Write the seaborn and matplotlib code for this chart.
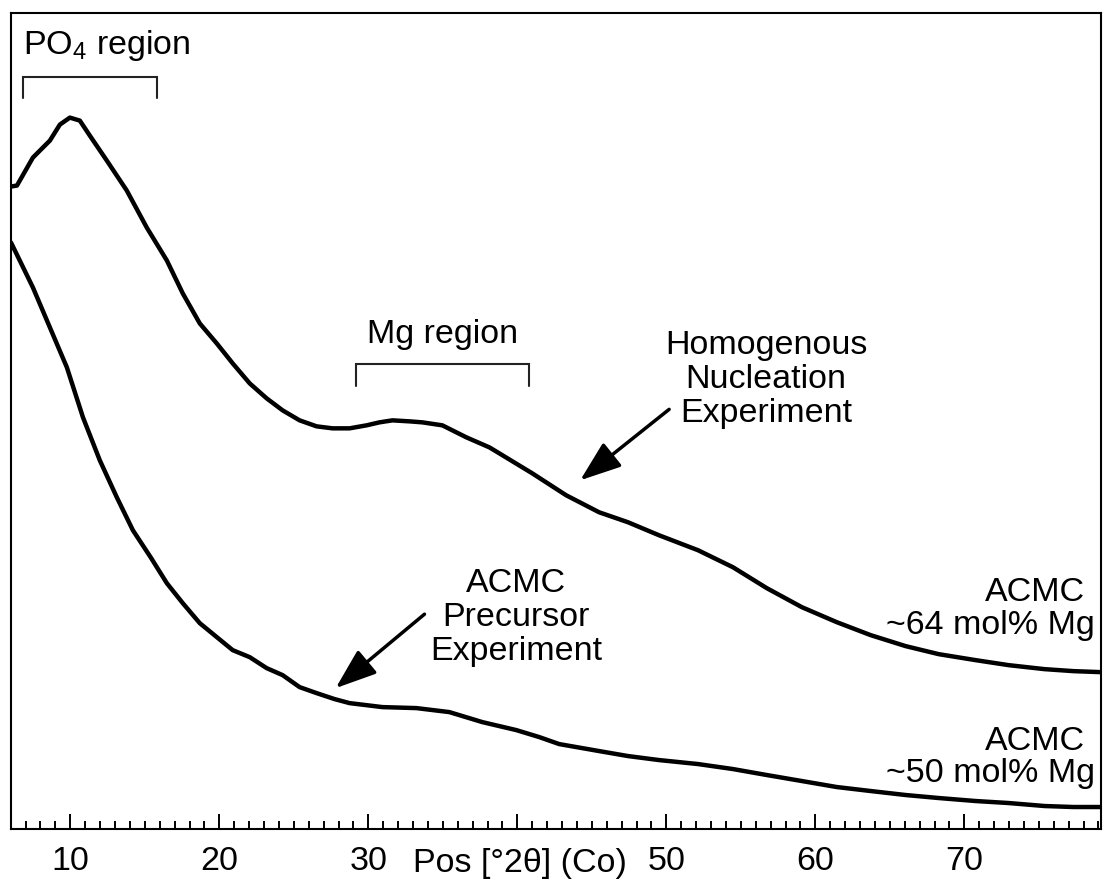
import matplotlib
matplotlib.use("Agg")
import matplotlib.pyplot as plt
import seaborn as sns
import numpy as np
from matplotlib.ticker import MultipleLocator, FixedLocator, FixedFormatter

# ---- data ----
two_theta_hom = [6.02, 6.42, 7.49, 8.63, 9.30, 9.97, 10.64, 11.31, 12.45, 13.79, 15.13,
                 16.48, 17.55, 18.69, 19.83, 20.90, 22.04, 23.18, 24.25, 25.39, 26.53,
                 27.60, 28.74, 29.88, 30.75, 31.62, 32.76, 33.63, 34.97, 36.58, 38.12,
                 38.79, 41.00, 43.28, 45.49, 47.43, 49.51, 52.13, 54.47, 56.75, 59.10,
                 61.44, 63.72, 66.07, 68.28, 70.76, 72.97, 75.38, 77.33, 79.14]
intensity_hom = [643, 644, 672, 689, 705, 712, 709, 694, 669, 639, 602,
                 569, 536, 506, 486, 466, 446, 431, 419, 409, 403,
                 401, 401, 404, 407, 409, 408, 407, 404, 392, 382,
                 376, 356, 334, 317, 307, 294, 279, 262, 241, 222,
                 207, 194, 183, 175, 169, 164, 160, 158, 157]

two_theta_pre = [6.02, 7.49, 8.63, 9.77, 10.85, 11.98, 13.12, 14.20, 15.39, 16.48,
                 17.55, 18.69, 20.90, 22.04, 23.18, 24.25, 25.39, 26.53, 27.74, 28.74,
                 30.95, 33.23, 35.44, 37.65, 39.93, 41.47, 42.81, 45.49, 47.43, 49.51,
                 52.13, 54.47, 56.75, 59.10, 61.44, 63.72, 66.07, 68.28, 70.76, 72.97,
                 75.38, 77.33, 79.14]
intensity_pre = [587, 542, 502, 462, 412, 369, 332, 299, 272, 246,
                 226, 206, 179, 172, 161, 154, 142, 136, 130, 126,
                 122, 121, 117, 107, 99, 92, 85, 78, 73, 69,
                 65, 60, 54, 48, 42, 38, 34, 31, 28, 26,
                 23, 22, 22]

major_ticks = [10, 20, 30, 40, 50, 60, 70]
tick_labels = ["10", "20", "30", "", "50", "60", "70"]
x_label = "Pos [°2θ] (Co)"

po4_region = [6.82, 15.8]
mg_region = [29.2, 40.8]

# ---- style ----
sns.set_style("white")
plt.rcParams["font.family"] = ["Liberation Sans", "DejaVu Sans"]
plt.rcParams["mathtext.default"] = "regular"
plt.rcParams["text.color"] = "black"
plt.rcParams["xtick.color"] = "black"
plt.rcParams["xtick.labelcolor"] = "black"

FS = 24.5
fig = plt.figure(figsize=(11.04, 8.82), dpi=100)
ax = fig.add_axes([0.00969, 0.06009, 0.98796, 0.92551])

sns.lineplot(x=two_theta_hom, y=intensity_hom, ax=ax, color="black", lw=3.2,
             estimator=None, sort=False)
sns.lineplot(x=two_theta_pre, y=intensity_pre, ax=ax, color="black", lw=3.2,
             estimator=None, sort=False)

ax.set_xlim(6.0, 79.2)
ax.set_ylim(0, 817)
ax.set_yticks([])
ax.set_ylabel("")
ax.set_xlabel("")

for s in ax.spines.values():
    s.set_visible(True)
    s.set_linewidth(1.5)
    s.set_color("black")

ax.xaxis.set_major_locator(FixedLocator(major_ticks))
ax.xaxis.set_major_formatter(FixedFormatter(tick_labels))
ax.xaxis.set_minor_locator(MultipleLocator(1))
ax.tick_params(axis="x", which="major", direction="in", length=11, width=1.4,
               labelsize=FS, pad=12, bottom=True, top=False, colors="black")
ax.tick_params(axis="x", which="minor", direction="in", length=5.5, width=1.4,
               bottom=True, top=False, colors="black")

# x-axis title placed on the tick-label row, in place of the "40" label
ax.text(40.2, -0.0525, x_label, transform=ax.get_xaxis_transform(),
        ha="center", va="baseline", fontsize=FS)

# region brackets
def bracket(x0, x1, ytop, ybot):
    ax.plot([x0, x0, x1, x1], [ybot, ytop, ytop, ybot], color="#222222", lw=1.5,
            solid_joinstyle="miter")

bracket(po4_region[0], po4_region[1], 753, 732)
ax.text(6.82, 776, "PO$_{4}$ region", ha="left", va="baseline", fontsize=FS)

bracket(mg_region[0], mg_region[1], 465, 443)
ax.text(34.97, 486, "Mg region", ha="center", va="baseline", fontsize=FS)

arrow = dict(arrowstyle="-|>,head_length=0.9,head_width=0.33", color="black",
             lw=2.5, mutation_scale=28, shrinkA=0, shrinkB=0)

ax.text(56.69, 450, "Homogenous\nNucleation\nExperiment", ha="center", va="center",
        fontsize=FS, linespacing=1.12)
ax.annotate("", xy=(44.22, 349), xytext=(50.19, 420), arrowprops=arrow)

ax.text(39.93, 212, "ACMC\nPrecursor\nExperiment", ha="center", va="center",
        fontsize=FS, linespacing=1.12)
ax.annotate("", xy=(27.81, 141), xytext=(33.77, 215), arrowprops=arrow)

ax.text(78.07, 228, "ACMC", ha="right", va="baseline", fontsize=FS)
ax.text(78.74, 195, "~64 mol% Mg", ha="right", va="baseline", fontsize=FS)
ax.text(78.07, 79, "ACMC", ha="right", va="baseline", fontsize=FS)
ax.text(78.74, 47, "~50 mol% Mg", ha="right", va="baseline", fontsize=FS)

fig.savefig("out.png", dpi=100, facecolor="white")
